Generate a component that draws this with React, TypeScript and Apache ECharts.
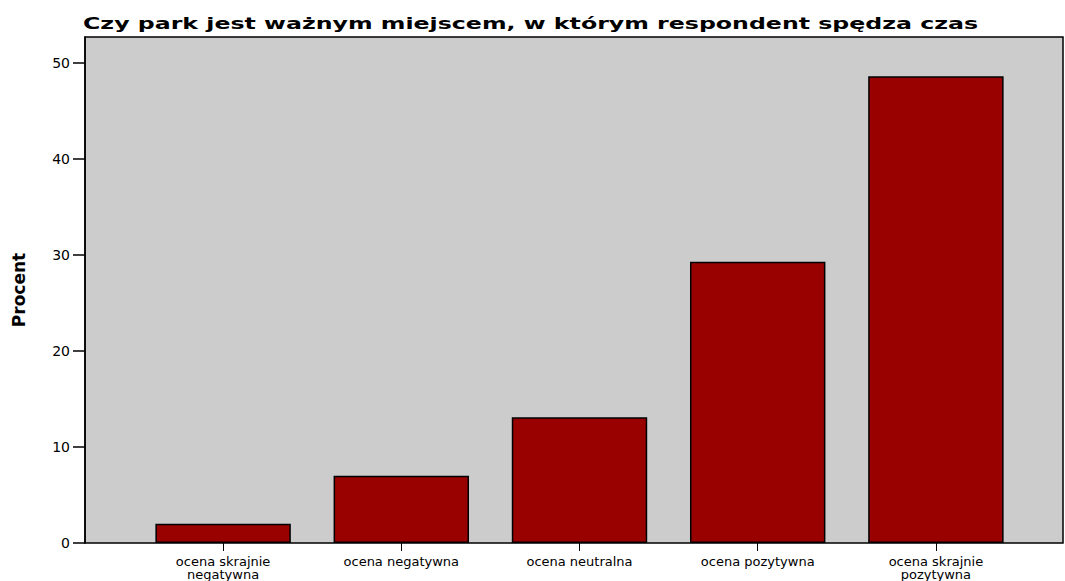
import React, { useEffect, useRef } from "react";
import * as echarts from "echarts";

const titleText = "Czy park jest ważnym miejscem, w którym respondent spędza czas";
const yAxisName = "Procent";
const categories = [
  "ocena skrajnie\nnegatywna",
  "ocena negatywna",
  "ocena neutralna",
  "ocena pozytywna",
  "ocena skrajnie\npozytywna",
];
const percentValues = [2.0, 7.0, 13.1, 29.3, 48.6];
const yMin = 0;
const yMax = 52.7;
const yInterval = 10;

export default function App() {
  const ref = useRef<HTMLDivElement>(null);
  useEffect(() => {
    document.body.style.margin = "0";
    const chart = echarts.init(ref.current!, undefined, { renderer: "svg" });
    const labelFont = "DejaVu Sans";
    chart.setOption({
      animation: false,
      backgroundColor: "#ffffff",
      graphic: [
        {
          type: "text",
          x: 83,
          y: 15,
          scaleX: 1.48,
          z: 10,
          style: {
            text: titleText,
            fontFamily: labelFont,
            fontWeight: "bold",
            fontSize: 16,
            fill: "#000000",
            textVerticalAlign: "top",
            textAlign: "left",
          },
        },
      ],
      grid: [
        { left: 134, right: 40, top: 37, bottom: 38, containLabel: false },
        {
          left: 85,
          right: 2,
          top: 37,
          bottom: 38,
          show: true,
          backgroundColor: "#cccccc",
          borderColor: "#000000",
          borderWidth: 1.5,
          z: 0,
        },
      ],
      xAxis: [
        {
          type: "category",
          gridIndex: 0,
          data: categories,
          axisLine: { show: false },
          axisTick: {
            show: true,
            alignWithLabel: true,
            length: 8,
            lineStyle: { color: "#000000", width: 1 },
          },
          axisLabel: {
            interval: 0,
            margin: 12,
            fontFamily: labelFont,
            fontSize: 13,
            lineHeight: 13,
            color: "#000000",
          },
          splitLine: { show: false },
        },
        {
          type: "value",
          gridIndex: 1,
          show: false,
        },
      ],
      yAxis: [
        {
          type: "value",
          gridIndex: 0,
          min: yMin,
          max: yMax,
          interval: yInterval,
          show: false,
          splitLine: { show: false },
        },
        {
          type: "value",
          gridIndex: 1,
          min: yMin,
          max: yMax,
          interval: yInterval,
          name: yAxisName,
          nameLocation: "middle",
          nameGap: 58,
          nameRotate: 90,
          nameTextStyle: {
            fontFamily: labelFont,
            fontWeight: "bold",
            fontSize: 17,
            color: "#000000",
          },
          axisLine: { show: true, lineStyle: { color: "#000000", width: 1.5 } },
          axisTick: { show: true, length: 12, lineStyle: { color: "#000000", width: 1.5 } },
          axisLabel: {
            showMaxLabel: false,
            margin: 15,
            fontFamily: labelFont,
            fontSize: 14,
            color: "#000000",
          },
          splitLine: { show: false },
        },
      ],
      series: [
        {
          type: "bar",
          xAxisIndex: 0,
          yAxisIndex: 0,
          data: percentValues,
          barWidth: "76%",
          z: 3,
          itemStyle: {
            color: "#990000",
            borderColor: "#000000",
            borderWidth: 1.5,
          },
        },
      ],
    });
    return () => chart.dispose();
  }, []);
  return (
    <div
      ref={ref}
      style={{ position: "fixed", left: 0, top: 0, width: 1065, height: 581 }}
    />
  );
}
